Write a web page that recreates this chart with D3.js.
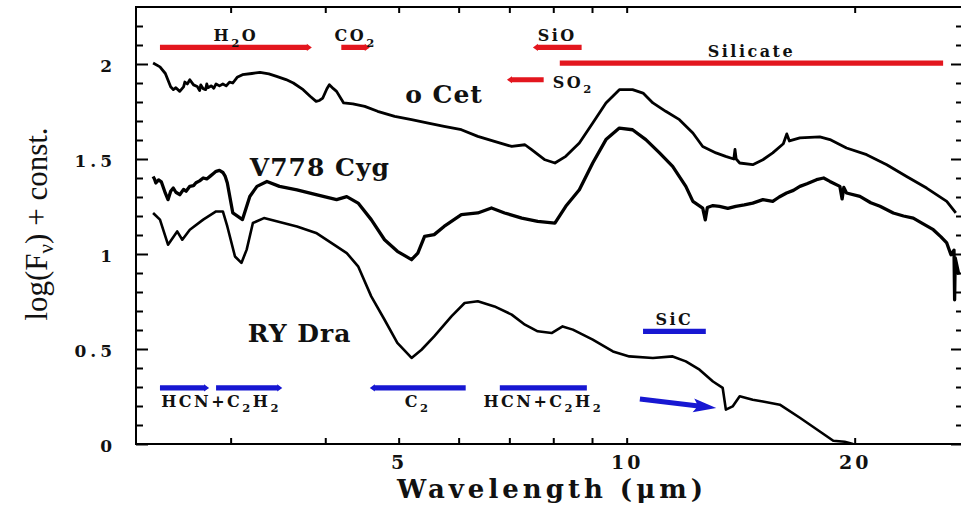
<!DOCTYPE html>
<html>
<head>
<meta charset="utf-8">
<script src="https://cdn.jsdelivr.net/npm/d3@7"></script>
<style>
  body { margin: 0; background: #fff; }
  svg { display: block; }
</style>
</head>
<body>
<svg id="chart" width="961" height="507"></svg>
<script>
// ---- Spectra: wavelength (µm) and log(F_nu) + offset ----
const oCetWave = [2.37,2.42,2.46,2.50,2.52,2.54,2.57,2.60,2.61,2.63,2.65,2.68,2.71,2.73,2.74,2.76,2.78,2.79,2.80,2.83,2.85,2.87,2.90,2.93,2.96,2.99,3.02,3.06,3.11,3.20,3.28,3.37,3.45,3.55,3.63,3.74,3.82,3.89,3.93,3.97,4.02,4.05,4.10,4.14,4.23,4.35,4.51,4.69,4.94,5.20,5.47,5.74,6.05,6.36,6.69,7.05,7.34,7.49,7.80,8.04,8.31,8.66,9.02,9.39,9.78,10.18,10.51,10.83,11.26,11.74,12.23,12.60,13.12,13.51,13.85,13.90,13.95,14.10,14.67,15.13,15.59,16.10,16.27,16.40,16.93,17.99,18.55,19.51,20.74,22.05,23.42,24.89,26.46,27.2];
const oCetFlux = [2.005,1.985,1.95,1.88,1.865,1.875,1.856,1.88,1.905,1.895,1.917,1.89,1.882,1.86,1.89,1.87,1.865,1.895,1.875,1.885,1.872,1.895,1.885,1.895,1.885,1.905,1.900,1.93,1.944,1.95,1.956,1.948,1.935,1.918,1.900,1.865,1.83,1.803,1.808,1.821,1.87,1.891,1.87,1.856,1.795,1.79,1.777,1.751,1.724,1.707,1.689,1.672,1.654,1.619,1.593,1.566,1.575,1.549,1.496,1.479,1.514,1.584,1.689,1.795,1.865,1.865,1.847,1.795,1.751,1.707,1.637,1.566,1.532,1.514,1.500,1.55,1.500,1.479,1.470,1.496,1.532,1.580,1.632,1.595,1.611,1.616,1.602,1.558,1.523,1.470,1.408,1.347,1.277,1.216];

const v778Wave = [2.37,2.38,2.39,2.41,2.43,2.46,2.48,2.50,2.52,2.54,2.57,2.60,2.62,2.65,2.68,2.70,2.73,2.76,2.79,2.82,2.85,2.87,2.90,2.93,2.95,2.97,3.02,3.11,3.18,3.25,3.35,3.48,3.67,3.89,4.14,4.27,4.42,4.60,4.79,4.98,5.10,5.20,5.30,5.41,5.57,5.74,6.05,6.36,6.63,6.90,7.27,7.63,8.04,8.31,8.66,9.02,9.39,9.78,10.18,10.60,11.05,11.50,11.97,12.23,12.60,12.70,12.78,13.00,13.26,13.60,13.93,14.30,14.67,15.13,15.59,15.90,16.26,16.60,16.93,17.30,17.81,18.20,18.55,19.12,19.25,19.35,19.51,20.32,21.00,21.60,22.49,23.20,23.90,24.60,25.40,26.00,26.46,26.80,27.05,27.10,27.15,27.45];
const v778Flux = [1.408,1.395,1.374,1.39,1.38,1.32,1.286,1.33,1.347,1.325,1.312,1.34,1.33,1.356,1.36,1.375,1.385,1.400,1.395,1.41,1.425,1.435,1.44,1.429,1.41,1.374,1.216,1.181,1.303,1.356,1.382,1.356,1.338,1.312,1.286,1.302,1.268,1.181,1.075,1.014,0.99,0.970,1.005,1.093,1.102,1.145,1.207,1.216,1.242,1.216,1.189,1.172,1.163,1.251,1.338,1.479,1.602,1.663,1.654,1.602,1.532,1.461,1.356,1.277,1.242,1.18,1.245,1.255,1.251,1.24,1.251,1.258,1.268,1.286,1.277,1.30,1.321,1.335,1.356,1.37,1.391,1.40,1.382,1.356,1.29,1.35,1.321,1.303,1.27,1.251,1.216,1.20,1.189,1.16,1.128,1.09,1.058,0.996,1.02,0.759,0.98,0.891];

const ryDraWave = [2.37,2.42,2.48,2.55,2.59,2.65,2.76,2.87,2.93,2.97,3.04,3.10,3.15,3.21,3.32,3.45,3.67,3.89,4.14,4.27,4.42,4.60,4.79,4.98,5.20,5.36,5.57,5.87,6.11,6.36,6.69,7.05,7.34,7.63,7.96,8.23,8.49,9.02,9.59,10.08,10.83,11.50,11.97,12.48,13.00,13.39,13.52,13.80,14.10,14.67,15.13,15.93,16.93,17.99,18.74,19.40,19.90];
const ryDraFlux = [1.216,1.181,1.049,1.119,1.075,1.128,1.181,1.224,1.224,1.145,0.987,0.953,1.023,1.163,1.189,1.172,1.145,1.111,1.040,1.005,0.935,0.777,0.654,0.532,0.453,0.496,0.566,0.672,0.742,0.751,0.724,0.681,0.628,0.593,0.584,0.619,0.602,0.549,0.487,0.461,0.453,0.461,0.435,0.391,0.329,0.295,0.181,0.198,0.251,0.233,0.224,0.207,0.138,0.066,0.017,0.012,0.0];

const starNames = ["o Cet", "V778 Cyg", "RY Dra"];
const starLabelWave = [5.10, 3.18, 3.16];
const starLabelLevel = [1.796, 1.412, 0.538];

// ---- Molecular / dust feature bands ("_x" marks a subscript) ----
const bandFrom    = [2.42, 4.20, 7.52, 6.95, 8.16, 2.42, 2.87, 4.58, 6.80, 10.51];
const bandTo      = [3.84, 4.58, 8.72, 7.77, 26.17, 2.81, 3.51, 6.13, 8.86, 12.72];
const bandLevel   = [2.087, 2.087, 2.087, 1.917, 2.005, 0.295, 0.295, 0.295, 0.295, 0.593];
const bandLabel   = ["H_2O", "CO_2", "SiO", "SO_2", "Silicate", "HCN+C_2H_2", null, "C_2", "HCN+C_2H_2", "SiC"];
const bandChem    = ["O", "O", "O", "O", "O", "C", "C", "C", "C", "C"];   // oxygen- / carbon-rich
const bandTip     = [1, 1, -1, -1, 0, 1, 1, -1, 0, 0];                      // pointed end: 1 right, -1 left

// SiC shift arrow
const arrowWave  = [10.41, 13.13];
const arrowLevel = [0.237, 0.189];

// ---- Axes ----
const waveDomain = [2.25, 27.8];
const fluxDomain = [0, 2.3];
const xTickValues = [3, 4, 5, 6, 7, 8, 9, 10, 20];
const xTickLabels = ["", "", "5", "", "", "", "", "10", "20"];
const yMajorTicks = [0, 0.5, 1, 1.5, 2];
const yMajorLabels = ["0", "0.5", "1", "1.5", "2"];
const yMinorTicks = [0.1, 0.2, 0.3, 0.4, 0.6, 0.7, 0.8, 0.9, 1.1, 1.2, 1.3, 1.4, 1.6, 1.7, 1.8, 1.9, 2.1, 2.2];

const RED = "#e3161e", BLUE = "#1717d2";
const SLAB = "'DejaVu Serif', 'Liberation Serif', serif";

const svg = d3.select("#chart");
const frame = { left: 136, right: 963, top: 7, bottom: 444 };

const x = d3.scaleLog().domain(waveDomain).range([frame.left, frame.right]);
const y = d3.scaleLinear().domain(fluxDomain).range([frame.bottom, frame.top]);

svg.append("defs").append("clipPath").attr("id", "plotClip")
  .append("rect")
  .attr("x", frame.left).attr("y", frame.top)
  .attr("width", frame.right - frame.left).attr("height", frame.bottom - frame.top);

// axes with inward ticks on all four sides
function styleAxis(g) {
  g.select(".domain").remove();
  g.selectAll(".tick line").attr("stroke", "#000").attr("stroke-width", 2);
  g.selectAll(".tick text")
    .attr("fill", "#111")
    .attr("font-family", SLAB)
    .attr("font-weight", "bold");
}

svg.append("g")
  .attr("transform", `translate(0,${frame.bottom})`)
  .call(d3.axisBottom(x).tickValues(xTickValues)
    .tickFormat((d, i) => xTickLabels[i]).tickSizeInner(-6).tickSizeOuter(0).tickPadding(12))
  .call(styleAxis)
  .call(g => g.selectAll(".tick text").attr("font-size", 19).attr("letter-spacing", 3));

svg.append("g")
  .attr("transform", `translate(0,${frame.top})`)
  .call(d3.axisTop(x).tickValues(xTickValues).tickFormat("").tickSizeInner(-6).tickSizeOuter(0))
  .call(styleAxis);

[[d3.axisLeft, frame.left], [d3.axisRight, frame.right]].forEach(([axisFn, pos], side) => {
  svg.append("g")
    .attr("transform", `translate(${pos},0)`)
    .call(axisFn(y).tickValues(yMajorTicks)
      .tickFormat((d, i) => side === 0 ? yMajorLabels[i] : "")
      .tickSizeInner(-12).tickSizeOuter(0).tickPadding(20))
    .call(styleAxis)
    .call(g => g.selectAll(".tick text").attr("font-size", 17).attr("letter-spacing", 4).attr("dy", "0.45em"));
  svg.append("g")
    .attr("transform", `translate(${pos},0)`)
    .call(axisFn(y).tickValues(yMinorTicks).tickFormat("").tickSizeInner(-7).tickSizeOuter(0))
    .call(styleAxis);
});

svg.append("rect")
  .attr("x", frame.left).attr("y", frame.top)
  .attr("width", frame.right - frame.left).attr("height", frame.bottom - frame.top)
  .attr("fill", "none").attr("stroke", "#000").attr("stroke-width", 2);

// axis titles
svg.append("text")
  .attr("x", 552).attr("y", 498)
  .attr("text-anchor", "middle")
  .attr("font-family", SLAB).attr("font-weight", "bold")
  .attr("font-size", 26).attr("letter-spacing", 4)
  .attr("fill", "#111")
  .text("Wavelength (\u03BCm)");

const yTitle = svg.append("text")
  .attr("transform", "translate(47,224) rotate(-90)")
  .attr("text-anchor", "middle")
  .attr("font-family", "'Liberation Serif', 'DejaVu Serif', serif")
  .attr("font-size", 31)
  .attr("fill", "#111");
yTitle.append("tspan").text("log(F");
yTitle.append("tspan").attr("dy", 6).attr("font-size", 21).text("\u03BD");
yTitle.append("tspan").attr("dy", -6).text(") + const.");

// spectra
const line = d3.line().x(d => x(d[0])).y(d => y(d[1]));
const spectra = [
  d3.zip(oCetWave, oCetFlux),
  d3.zip(v778Wave, v778Flux),
  d3.zip(ryDraWave, ryDraFlux)
];
const strokeW = [2.8, 3.3, 2.6];
svg.append("g").attr("clip-path", "url(#plotClip)")
  .selectAll("path").data(spectra).join("path")
  .attr("d", line)
  .attr("fill", "none")
  .attr("stroke", "#000")
  .attr("stroke-width", (d, i) => strokeW[i])
  .attr("stroke-linejoin", "round");

// star names
svg.append("g").selectAll("text").data(starNames).join("text")
  .attr("x", (d, i) => x(starLabelWave[i]))
  .attr("y", (d, i) => y(starLabelLevel[i]))
  .attr("font-family", SLAB).attr("font-weight", "bold")
  .attr("font-size", 25).attr("letter-spacing", 1)
  .attr("fill", "#111")
  .text(d => d);

// rich label: "_x" renders x as a subscript
function richText(sel, label, size) {
  const parts = [];
  for (let i = 0; i < label.length; i++) {
    if (label[i] === "_") { parts.push([label[i + 1], true]); i++; }
    else if (parts.length && !parts[parts.length - 1][1]) parts[parts.length - 1][0] += label[i];
    else parts.push([label[i], false]);
  }
  let low = false;
  parts.forEach(([s, sub]) => {
    const t = sel.append("tspan").text(s);
    if (sub) {
      t.attr("font-size", size * 0.72);
      if (!low) { t.attr("dy", size * 0.32); low = true; }
    } else if (low) { t.attr("dy", -size * 0.32); low = false; }
  });
}

// feature bars
const half = 2.6, head = 5;
function barPath(i) {
  const x1 = x(bandFrom[i]), x2 = x(bandTo[i]), yy = y(bandLevel[i]);
  const t = bandTip[i];
  if (t === 1) {
    return `M${x1},${yy - half}L${x2 - head},${yy - half}L${x2 - head},${yy - half - 1}L${x2},${yy}` +
           `L${x2 - head},${yy + half + 1}L${x2 - head},${yy + half}L${x1},${yy + half}Z`;
  }
  if (t === -1) {
    return `M${x2},${yy - half}L${x1 + head},${yy - half}L${x1 + head},${yy - half - 1}L${x1},${yy}` +
           `L${x1 + head},${yy + half + 1}L${x1 + head},${yy + half}L${x2},${yy + half}Z`;
  }
  return `M${x1},${yy - half}L${x2},${yy - half}L${x2},${yy + half}L${x1},${yy + half}Z`;
}
const bars = svg.append("g");
bandFrom.forEach((_, i) => {
  bars.append("path")
    .attr("d", barPath(i))
    .attr("fill", bandChem[i] === "O" ? RED : BLUE);
});

// feature labels (a null label continues the previous band)
const groups = [];
bandLabel.forEach((lab, i) => {
  if (lab === null) groups[groups.length - 1].to = bandTo[i];
  else groups.push({ i, label: lab, from: bandFrom[i], to: bandTo[i], level: bandLevel[i], chem: bandChem[i] });
});
const labelSize = 16;
groups.forEach(g => {
  let side = g.chem === "O" ? "above" : "below";
  if (g.label === "SO_2") side = "right";
  if (g.label === "SiC") side = "above";
  const cx = x(Math.sqrt(g.from * g.to));
  const yy = y(g.level);
  const t = bars.append("text")
    .attr("font-family", SLAB).attr("font-weight", "bold")
    .attr("font-size", labelSize).attr("letter-spacing", 2.5)
    .attr("fill", "#111");
  if (side === "right") {
    t.attr("x", x(g.to) + 9).attr("y", yy + 8).attr("text-anchor", "start");
  } else {
    t.attr("x", cx).attr("y", side === "above" ? yy - 6 : yy + 19).attr("text-anchor", "middle");
  }
  richText(t, g.label, labelSize);
});

// SiC arrow
(function () {
  const x1 = x(arrowWave[0]), y1 = y(arrowLevel[0]);
  const x2 = x(arrowWave[1]), y2 = y(arrowLevel[1]);
  const ang = Math.atan2(y2 - y1, x2 - x1);
  const len = Math.hypot(x2 - x1, y2 - y1);
  const g = bars.append("g").attr("transform", `translate(${x1},${y1}) rotate(${ang * 180 / Math.PI})`);
  g.append("path")
    .attr("d", `M0,-2.6L${len - 20},-2.6L${len - 23},-7L${len},0L${len - 23},7L${len - 20},2.6L0,2.6Z`)
    .attr("fill", BLUE);
})();
</script>
</body>
</html>
